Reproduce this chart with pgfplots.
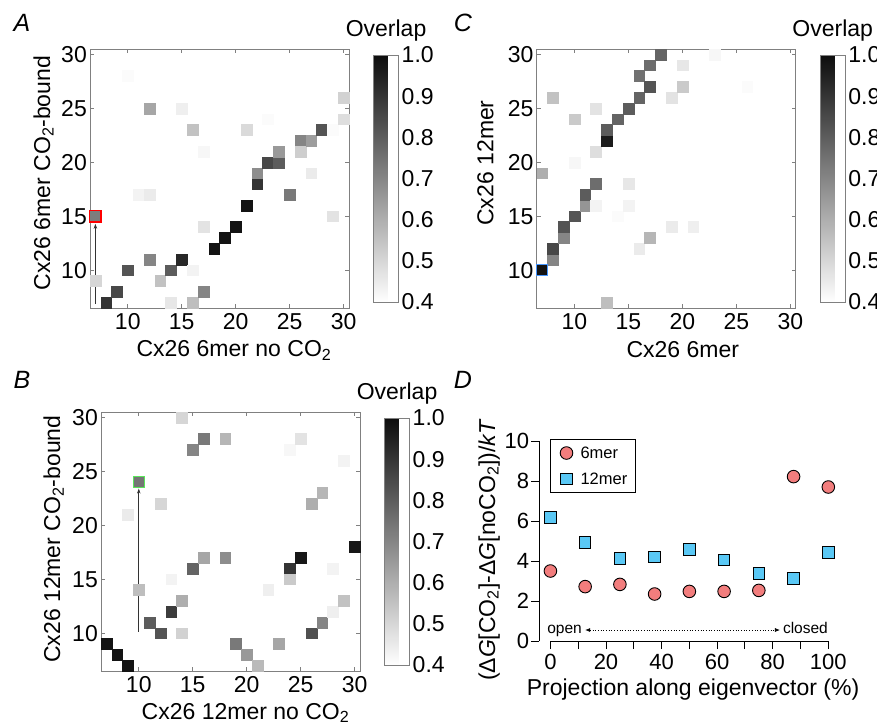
\documentclass[border=0pt]{standalone}
\usepackage{fontspec}
\setmainfont{Liberation Sans}
\usepackage{pgfplots}
\usepackage{pgfplotstable}
\pgfplotsset{compat=1.18}
\usetikzlibrary{arrows.meta}

\newcommand{\bigf}{\fontsize{23}{27}\selectfont}
\definecolor{hiblue}{RGB}{70,150,255}
\definecolor{higreen}{RGB}{90,230,90}
\definecolor{sixred}{RGB}{242,125,125}
\definecolor{twblue}{RGB}{90,200,245}

% overlap matrices: x, y, overlap (cells below 0.4 are white)
\pgfplotstableread{
x y v
7 9 0.50
7 15 0.72
8 7 0.90
9 8 0.85
10 10 0.82
10 28 0.41
11 17 0.43
12 17 0.45
12 25 0.62
12 11 0.70
13 9 0.55
14 10 0.80
14 7 0.46
15 11 0.93
15 25 0.44
16 10 0.43
16 7 0.56
16 23 0.55
17 8 0.70
17 14 0.47
17 21 0.42
18 12 0.98
19 13 0.98
20 14 0.98
21 16 0.98
21 23 0.49
22 18 0.90
22 19 0.68
23 24 0.41
23 20 0.85
24 20 0.80
24 21 0.65
25 17 0.73
26 22 0.70
26 21 0.52
27 22 0.64
27 19 0.45
28 23 0.82
29 23 0.41
29 15 0.47
30 24 0.48
30 26 0.51
}\dataA

\pgfplotstableread{
x y v
7 10 0.98
8 11 0.70
8 12 0.85
9 13 0.70
9 14 0.82
10 15 0.82
11 16 0.66
11 17 0.80
12 18 0.76
12 16 0.43
12 21 0.48
12 25 0.47
13 22 0.96
13 23 0.80
13 7 0.56
14 24 0.78
14 15 0.41
15 25 0.80
15 18 0.46
15 16 0.43
16 26 0.78
16 28 0.75
16 12 0.45
17 27 0.82
17 29 0.76
17 13 0.58
18 30 0.78
19 26 0.47
19 14 0.45
20 27 0.53
20 29 0.46
21 14 0.44
23 30 0.42
26 27 0.41
7 19 0.60
10 24 0.53
8 26 0.55
10 20 0.42
}\dataC

\pgfplotstableread{
x y v
7 9 0.98
8 8 0.98
9 7 0.98
9 21 0.45
10 24 0.74
10 14 0.56
11 11 0.80
12 10 0.82
12 22 0.50
13 12 0.88
13 15 0.43
14 13 0.60
14 10 0.51
14 30 0.50
15 27 0.70
15 16 0.78
16 28 0.73
16 17 0.62
18 28 0.58
18 17 0.68
19 9 0.73
20 8 0.65
21 7 0.57
22 14 0.44
23 9 0.62
24 27 0.42
24 16 0.90
24 15 0.53
25 28 0.47
25 17 0.97
26 22 0.60
26 10 0.83
27 23 0.58
27 11 0.70
28 16 0.43
28 12 0.44
29 13 0.55
29 26 0.43
30 18 0.97
}\dataB

\pgfplotsset{
  overlapmap/.style={
    scale only axis, width=259pt, height=259pt,
    xmin=6.5, xmax=30.5, ymin=6.5, ymax=30.5,
    xtick={10,15,...,30}, ytick={10,15,...,30},
    tick align=inside, major tick length=4pt,
    tick style={gray, line width=0.8pt},
    axis line style={gray, line width=1pt},
    /pgf/number format/assume math mode=true,
    ticklabel style={font=\bigf, inner sep=3pt},
    xticklabel style={yshift=-2pt},
    label style={font=\bigf},
    colormap={ov}{gray(0cm)=(1); gray(1cm)=(0.05)},
    point meta min=0.4, point meta max=1.0,
    clip=false,
    colorbar,
    colorbar style={
      scale only axis, width=25pt, height=247pt,
      at={(parent axis.east)}, anchor=west, xshift=16pt,
      ytick={0.4,0.5,0.6,0.7,0.8,0.9,1.0},
      yticklabel style={/pgf/number format/.cd, fixed, fixed zerofill, precision=1,
        assume math mode=true, /tikz/.cd, font=\bigf, inner sep=3pt},
      major tick length=0pt,
      axis line style={gray, line width=1pt},
      title={Overlap},
      title style={font=\bigf, inner sep=0pt, yshift=8pt},
    },
  },
  ovcells/.style={scatter, only marks, mark=square*, mark size=5.4pt,
    scatter/use mapped color={draw=mapped color, fill=mapped color},
    point meta=\thisrow{v}},
}

\begin{document}
\begin{tikzpicture}
\useasboundingbox (0,0) rectangle (877pt,-724pt);

% ---- A ----
\begin{axis}[overlapmap, at={(90pt,-308pt)}, anchor=south west,
  xlabel={Cx26 6mer no CO\textsubscript{2}},
  ylabel={Cx26 6mer CO\textsubscript{2}-bound},
  xlabel style={at={(axis description cs:0.556,0)}, anchor=base, yshift=-48.5pt},
  ylabel style={at={(axis description cs:-0.1544,0.521)}, anchor=base},
]
\addplot[ovcells] table[x=x, y=y] {\dataA};
\addplot[only marks, mark=square, mark size=5.6pt, mark options={draw=red, line width=1.3pt}] coordinates {(7,15)};
\addplot[-{Stealth[length=5pt,width=3.5pt]}, line width=0.6pt, black!80] coordinates {(7,6.9) (7,14.3)};
\end{axis}

% ---- C ----
\begin{axis}[overlapmap, at={(536.7pt,-308pt)}, anchor=south west,
  xlabel={Cx26 6mer},
  ylabel={Cx26 12mer},
  xlabel style={at={(axis description cs:0.564,0)}, anchor=base, yshift=-49pt},
  ylabel style={at={(axis description cs:-0.1674,0.56)}, anchor=base},
]
\addplot[ovcells] table[x=x, y=y] {\dataC};
\addplot[only marks, mark=square, mark size=5.6pt, mark options={draw=hiblue, line width=1.3pt}] coordinates {(7,10)};
\end{axis}

% ---- B ----
\begin{axis}[overlapmap, at={(101pt,-671pt)}, anchor=south west,
  xlabel={Cx26 12mer no CO\textsubscript{2}},
  ylabel={Cx26 12mer CO\textsubscript{2}-bound},
  xlabel style={at={(axis description cs:0.558,0)}, anchor=base, yshift=-48pt},
  ylabel style={at={(axis description cs:-0.1577,0.509)}, anchor=base},
]
\addplot[ovcells] table[x=x, y=y] {\dataB};
\addplot[only marks, mark=square, mark size=5.6pt, mark options={draw=higreen, line width=1.3pt}] coordinates {(10,24)};
\addplot[-{Stealth[length=5pt,width=3.5pt]}, line width=0.6pt, black!80] coordinates {(10,10.15) (10,23.4)};
\end{axis}

% ---- D ----
\begin{axis}[at={(539.3pt,-641pt)}, anchor=south west,
  scale only axis, width=289pt, height=200pt,
  xmin=-4, xmax=100, ymin=0, ymax=10,
  axis lines=left, axis line style={draw=none},
  xtick={0,20,...,100}, minor xtick={10,30,...,90},
  ytick={0,2,...,10},
  tick align=outside, major tick length=8pt, minor tick length=8pt,
  tick style={black, line width=1pt},
  /pgf/number format/assume math mode=true,
  ticklabel style={font=\fontsize{22}{26}\selectfont, inner sep=2pt},
  xticklabel style={yshift=-3pt},
  label style={font=\bigf},
  xlabel={Projection along eigenvector (\%)},
  ylabel={(Δ\textit{G}[CO\textsubscript{2}]-Δ\textit{G}[noCO\textsubscript{2}])/\textit{kT}},
  xlabel style={at={(axis description cs:0.532,0)}, anchor=base, yshift=-54pt},
  ylabel style={at={(axis description cs:-0.1533,0.455)}, anchor=base},
  clip=false,
  legend style={at={(axis description cs:0.037,1.01)}, anchor=north west,
    draw=black, line width=1pt, font=\fontsize{16.5}{18}\selectfont,
    row sep=9pt, inner xsep=6pt, inner ysep=5pt},
  legend cell align=left,
  legend image code/.code={%
    \path[draw=none, fill=none] (0pt,-5pt) rectangle (22pt,5pt);
    \draw[#1] plot coordinates {(10pt,0pt)};},
]
\draw[line width=1pt] (axis cs:-4,0) -- (axis cs:-4,10);
\draw[line width=1pt] (axis cs:0,0) -- (axis cs:100,0);
\addplot[only marks, mark=*, mark size=6.3pt,
  mark options={fill=sixred, draw=black, line width=0.9pt}]
  coordinates {(0,3.50) (12.5,2.72) (25,2.83) (37.5,2.35) (50,2.48) (62.5,2.48) (75,2.53) (87.5,8.22) (100,7.70)};
\addlegendentry{6mer}
\addplot[only marks, mark=square*, mark size=5.7pt,
  mark options={fill=twblue, draw=black, line width=0.9pt}]
  coordinates {(0,6.17) (12.5,4.92) (25,4.12) (37.5,4.20) (50,4.58) (62.5,4.05) (75,3.38) (87.5,3.13) (100,4.42)};
\addlegendentry{12mer}
\node[anchor=base west, inner sep=0pt, font=\fontsize{15.5}{17}\selectfont] at (axis cs:-1.2,0.4) {open};
\node[anchor=base east, inner sep=0pt, font=\fontsize{15.5}{17}\selectfont] at (axis cs:99.9,0.4) {closed};
\draw[dotted, line width=0.7pt, {Latex[length=5pt,width=4pt]}-{Latex[length=5pt,width=4pt]}] (axis cs:12.5,0.55) -- (axis cs:82.6,0.55);
\end{axis}

% panel letters
\node[font=\fontsize{25}{28}\selectfont\itshape] at (22pt,-23pt) {A};
\node[font=\fontsize{25}{28}\selectfont\itshape] at (463pt,-23pt) {C};
\node[font=\fontsize{25}{28}\selectfont\itshape] at (22pt,-380pt) {B};
\node[font=\fontsize{25}{28}\selectfont\itshape] at (463pt,-380pt) {D};
\end{tikzpicture}
\end{document}
